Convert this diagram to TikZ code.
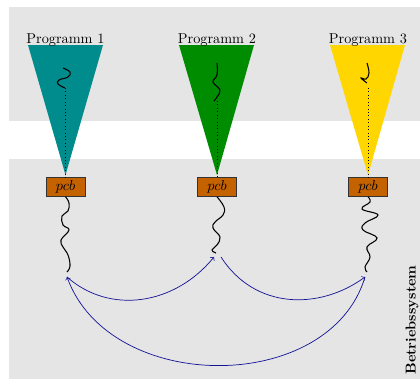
\documentclass[tikz,border=0pt]{standalone}
\usepackage{tikz}
\usetikzlibrary{positioning,arrows}

\definecolor{osgray}{RGB}{229,229,229}
\definecolor{progA}{RGB}{0,140,140}
\definecolor{progB}{RGB}{0,140,0}
\definecolor{progC}{RGB}{255,214,0}
\definecolor{pcbfill}{RGB}{196,98,0}
\definecolor{switchblue}{RGB}{20,20,150}

\begin{document}
\begin{tikzpicture}[x=0.7pt,y=-0.7pt,
                       pcb box/.style={rectangle,fill=pcbfill,draw=black!80,thin,
                                       inner sep=0pt,minimum width=27.3pt,minimum height=13.3pt},
                       prog label/.style={anchor=base,inner sep=0pt},
                       thread/.style={line width=0.75pt,smooth,tension=0.7},
                       switch/.style={->,>=to,draw=switchblue,line width=0.5pt}
                      ]
   \useasboundingbox (0,0) rectangle (420,379);
   % Programme und Betriebssystem
   \fill[osgray] (9,7) rectangle (420,121);
   \fill[osgray] (9,159) rectangle (420,379);
   \node[rotate=90,font=\bfseries] (os) at (412,320) {Betriebssystem};

   \fill[progA] (28,45) -- (103,45) -- (65.5,175) -- cycle;
   \fill[progB] (179,45) -- (254,45) -- (217,175) -- cycle;
   \fill[progC] (330,45) -- (405,45) -- (368,175) -- cycle;
   \node[prog label] (p1) at (65.5,43) {Programm 1};
   \node[prog label] (p2) at (217,43) {Programm 2};
   \node[prog label] (p3) at (368,43) {Programm 3};

   \node[pcb box] (pcbA) at (65.5,187) {$pcb$};
   \node[pcb box] (pcbB) at (217,187) {$pcb$};
   \node[pcb box] (pcbC) at (368,187) {$pcb$};

   % Threads im Programm
   \draw[thread] plot coordinates {(63,68) (70,72) (68,77) (59,80) (58,84) (65,88)};
   \draw[thread] plot coordinates {(217,63) (217,75) (213,82) (220,90) (217,97) (214,101)};
   \draw[thread] plot coordinates {(367,63) (369,73) (366,79) (361,78) (367,83)};
   \draw[dotted] (65.5,88) -- (pcbA.north);
   \draw[dotted] (217,101) -- (pcbB.north);
   \draw[dotted] (368,88) -- (pcbC.north);

   % Threads im Betriebssystem
   \draw[thread] plot coordinates {(pcbA.south) (69,203) (68,211) (62,216) (63,225) (69,230)
                                   (61,240) (63,247) (68,255) (70,266) (67,272)};
   \draw[thread] plot coordinates {(pcbB.south) (224,207) (223,215) (215,222) (213,228)
                                   (220,237) (217,245) (212,250) (216,253)};
   \draw[thread] plot coordinates {(pcbC.south) (370,202) (362,209) (378,215) (365,223)
                                   (363,230) (377,238) (367,247) (370,257) (365,267) (367,272)};
   \coordinate (endA) at (67,277);
   \coordinate (endB) at (214,257);
   \coordinate (startB) at (221,257);
   \coordinate (endC) at (365,277);

   % Umschalten
   \draw[switch] (endA) .. controls (110,315) and (175,305) .. (endB);
   \draw[switch] (startB) .. controls (255,310) and (320,310) .. (endC);
   \draw[switch] (endC) .. controls (330,395) and (110,395) .. (endA);
 \end{tikzpicture}
\end{document}
